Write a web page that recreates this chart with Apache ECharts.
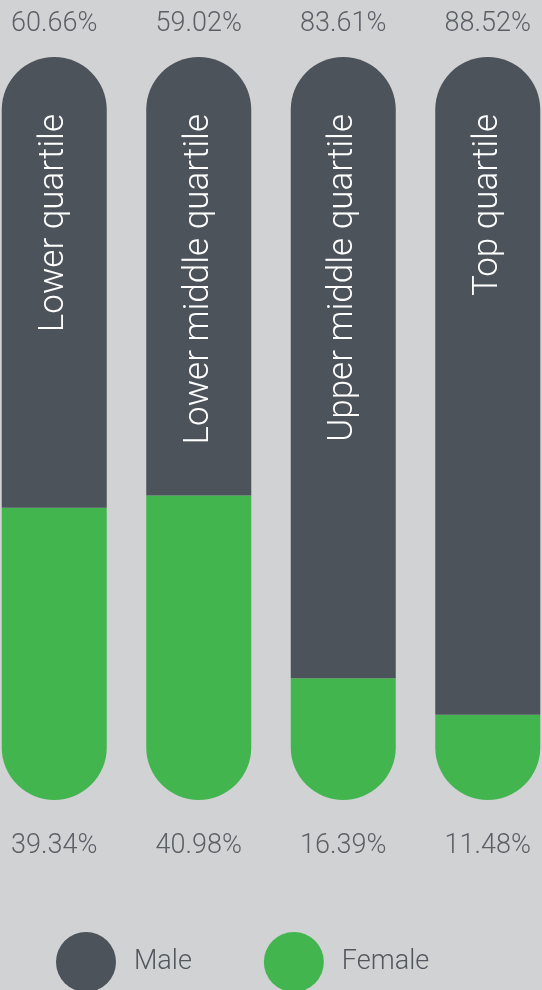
<!DOCTYPE html>
<html>
<head>
<meta charset="utf-8">
<script src="https://cdn.jsdelivr.net/npm/echarts@6/dist/echarts.min.js"></script>
<style>
html,body{margin:0;padding:0;background:#d1d2d4;}
#chart{width:542px;height:990px;}
</style>
</head>
<body>
<div id="chart"></div>
<script>
var categories = ['Lower quartile', 'Lower middle quartile', 'Upper middle quartile', 'Top quartile'];
var maleValues = [60.66, 59.02, 83.61, 88.52];
var femaleValues = [39.34, 40.98, 16.39, 11.48];
var seriesNames = ['Male', 'Female'];

var FONT = 'Roboto, "Liberation Sans", Arial, sans-serif';
var FW = 300;
var DARK = '#4d535a';
var GREEN = '#43b54f';
var TXT = '#5b6067';

var chart = echarts.init(document.getElementById('chart'), null, {renderer: 'canvas'});
chart.setOption({
  backgroundColor: '#d1d2d4',
  animation: false,
  grid: {left: -18, right: -18, top: 57, bottom: 190, containLabel: false, outerBoundsMode: 'none'},
  legend: {
    data: seriesNames,
    left: 51,
    top: 927,
    itemWidth: 60,
    itemHeight: 60,
    itemGap: 72,
    icon: 'circle',
    textStyle: {fontFamily: FONT, fontWeight: FW, fontSize: 27, color: '#51575d', padding: [0, 0, 0, 13]}
  },
  xAxis: [{
    type: 'category',
    data: categories,
    position: 'bottom',
    axisLine: {show: false},
    axisTick: {show: false},
    axisLabel: {
      margin: 33,
      fontFamily: FONT, fontWeight: FW, fontSize: 27, color: TXT,
      formatter: function (v, i) { return femaleValues[i].toFixed(2) + '%'; }
    }
  }, {
    type: 'category',
    data: categories,
    position: 'top',
    axisLine: {show: false},
    axisTick: {show: false},
    axisLabel: {
      margin: 19,
      fontFamily: FONT, fontWeight: FW, fontSize: 27, color: TXT,
      formatter: function (v, i) { return maleValues[i].toFixed(2) + '%'; }
    }
  }],
  yAxis: {type: 'value', min: 0, max: 100, show: false},
  series: [{
    name: 'Female',
    type: 'bar',
    stack: 'total',
    barWidth: 105,
    data: femaleValues,
    itemStyle: {color: GREEN, borderRadius: [0, 0, 52.5, 52.5]}
  }, {
    name: 'Male',
    type: 'bar',
    stack: 'total',
    barWidth: 105,
    data: maleValues,
    itemStyle: {color: DARK, borderRadius: [52.5, 52.5, 0, 0]},
    label: {
      show: true,
      position: 'insideTop',
      distance: 57,
      rotate: 90,
      align: 'right',
      verticalAlign: 'middle',
      fontFamily: FONT,
      fontWeight: FW,
      fontSize: 35,
      color: '#ffffff',
      formatter: function (p) { return p.name; }
    }
  }]
});
</script>
</body>
</html>
